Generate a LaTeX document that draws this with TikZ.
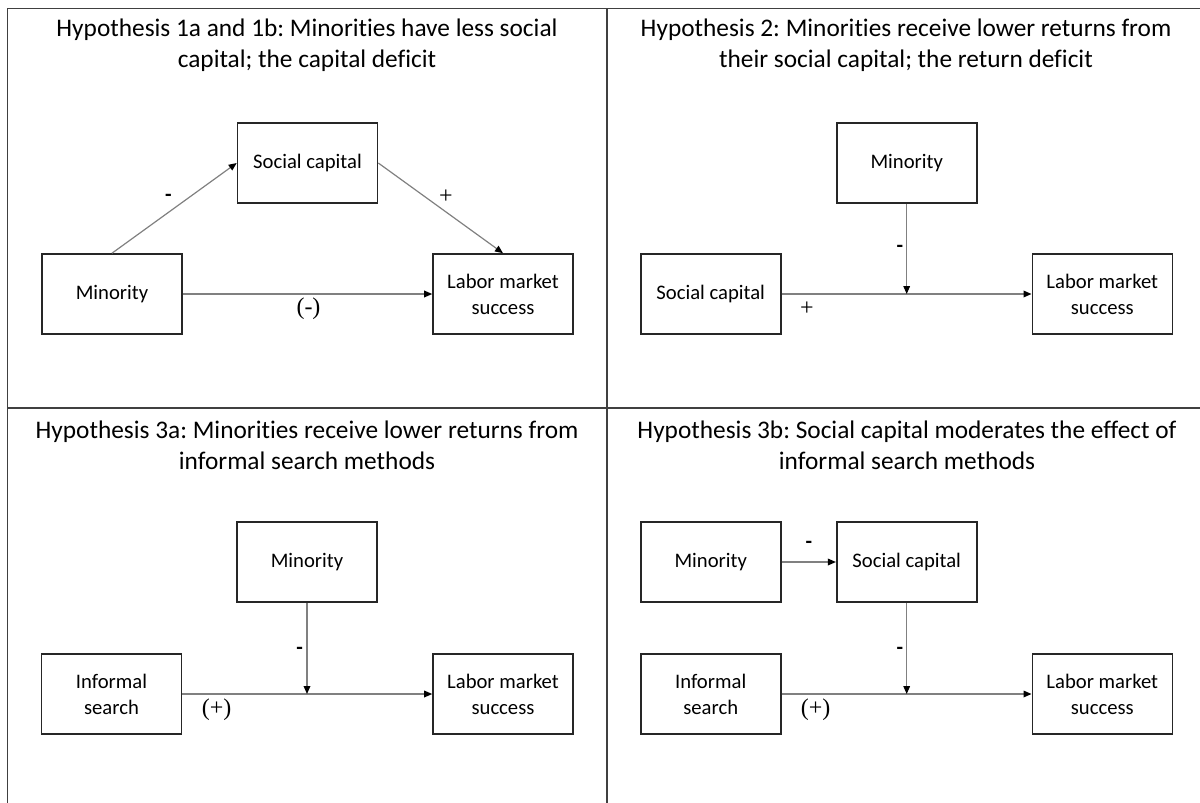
\documentclass[tikz,border=0pt]{standalone}
\usepackage{fontspec}
\setmainfont{Carlito}[Ligatures=NoCommon]
\newfontfamily\signfont{Liberation Serif}
\usetikzlibrary{arrows.meta}
\frenchspacing

\begin{document}
\begin{tikzpicture}[x=0.75pt, y=-0.75pt, >={Triangle[length=6pt, width=5pt, color=black]}]
	% Colors matching the original image
	\colorlet{framegray}{black!75}
	\colorlet{linkgray}{black!50}
	\tikzset{
		hbox/.style={draw=black!85, line width=1.2pt, minimum width=105pt, minimum height=60pt,
			align=center, inner sep=2pt, font=\fontsize{15.5}{19.5}\selectfont},
		htitle/.style={align=center, font=\fontsize{19}{23.25}\selectfont},
		link/.style={->, linkgray, line width=0.9pt},
		sign/.style={inner sep=0pt, font=\bfseries\fontsize{16}{19}\selectfont},
		psign/.style={inner sep=0pt, font=\signfont\fontsize{18}{21}\selectfont}
	}
	\useasboundingbox (0,0) rectangle (1200,803);
	
	% Table lines
	\draw[framegray, line width=1.3pt] (7.5,803) -- (7.5,8.5) -- (1200,8.5);
	\draw[framegray, line width=1pt] (607,8.5) -- (607,803);
	\draw[framegray, line width=1pt] (7.5,408) -- (1200,408);
	
	% Hypothesis 1a and 1b
	\node[htitle] (t1) at (307,45) {Hypothesis 1a and 1b: Minorities have less social\\capital; the capital deficit};
	\node[hbox] (h1min) at (112,294) {Minority};
	\node[hbox] (h1soc) at (307.5,163) {Social capital};
	\node[hbox] (h1lab) at (503,294) {Labor market\\success};
	\draw[link] (h1min.north) -- (h1soc.west);
	\draw[link] (h1soc.east) -- (h1lab.north);
	\draw[link] (h1min) -- (h1lab);
	\node[sign] (s1a) at (168.5,198) {-};
	\node[psign] (s1b) at (446,197) {+};
	\node[psign] (s1c) at (308.5,309) {(-)};
	
	% Hypothesis 2
	\node[htitle] (t2) at (906,45) {Hypothesis 2: Minorities receive lower returns from\\their social capital; the return deficit};
	\node[hbox] (h2min) at (906.7,163) {Minority};
	\node[hbox] (h2soc) at (710.7,294) {Social capital};
	\node[hbox] (h2lab) at (1102.3,294) {Labor market\\success};
	\coordinate (h2mod) at (h2min.south |- h2soc.east);
	\draw[link] (h2soc) -- (h2lab);
	\draw[link] (h2min.south) -- (h2mod);
	\node[sign] (s2a) at (900,249) {-};
	\node[psign] (s2b) at (807,309) {+};
	
	% Hypothesis 3a
	\node[htitle] (t3) at (307,445) {Hypothesis 3a: Minorities receive lower returns from\\informal search methods};
	\node[hbox] (h3min) at (307,562) {Minority};
	\node[hbox] (h3inf) at (111.5,694) {Informal\\search};
	\node[hbox] (h3lab) at (503,694) {Labor market\\success};
	\coordinate (h3mod) at (h3min.south |- h3inf.east);
	\draw[link] (h3inf) -- (h3lab);
	\draw[link] (h3min.south) -- (h3mod);
	\node[sign] (s3a) at (299.6,651) {-};
	\node[psign] (s3b) at (216.7,710) {(+)};
	
	% Hypothesis 3b
	\node[htitle] (t4) at (907,445) {Hypothesis 3b: Social capital moderates the effect of\\informal search methods};
	\node[hbox] (h4min) at (710.7,562) {Minority};
	\node[hbox] (h4soc) at (906.7,562) {Social capital};
	\node[hbox] (h4inf) at (710.7,694) {Informal\\search};
	\node[hbox] (h4lab) at (1102.3,694) {Labor market\\success};
	\coordinate (h4mod) at (h4soc.south |- h4inf.east);
	\draw[link] (h4min) -- (h4soc);
	\draw[link] (h4inf) -- (h4lab);
	\draw[link] (h4soc.south) -- (h4mod);
	\node[sign] (s4a) at (808.8,545) {-};
	\node[sign] (s4b) at (900,651) {-};
	\node[psign] (s4c) at (815.7,710) {(+)};
\end{tikzpicture}
\end{document}
